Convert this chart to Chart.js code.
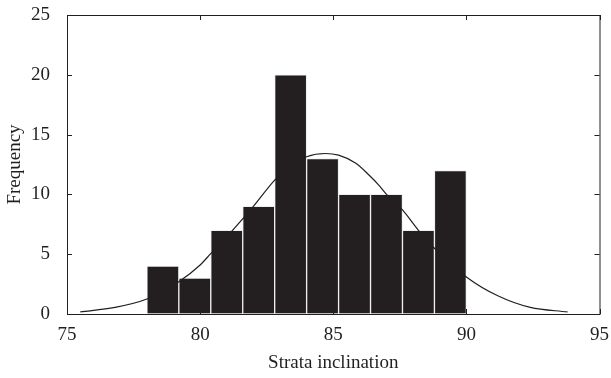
<!DOCTYPE html>
<html>
<head>
<meta charset="utf-8">
<script src="https://cdn.jsdelivr.net/npm/chart.js@4"></script>
<style>
  html, body { margin: 0; padding: 0; background: #fff; }
  #wrap { width: 611px; height: 378px; }
</style>
</head>
<body>
<div id="wrap"><canvas id="histChart" width="611" height="378"></canvas></div>
<script>
// histogram bins (centres of 1.2-wide bins from 78 to 90)
const binCenters = [78.6, 79.8, 81.0, 82.2, 83.4, 84.6, 85.8, 87.0, 88.2, 89.4];
const binCounts  = [4, 3, 7, 9, 20, 13, 10, 10, 7, 12];

// fitted curve
const curveX = [75.5, 76.8, 78.0, 79.2, 80.0, 80.4, 81.2, 82.0, 82.8, 83.4, 84.0, 84.7, 85.2, 85.85, 86.35, 86.7, 87.0, 87.6, 88.2, 88.8, 90.0, 91.2, 92.4, 93.8];
const curveY = [0.17, 0.55, 1.25, 2.7, 4.1, 5.05, 6.95, 9.0, 11.2, 12.4, 13.15, 13.42, 13.28, 12.6, 11.6, 10.8, 10.0, 8.7, 7.0, 5.5, 3.1, 1.5, 0.55, 0.17];

const xTicks = [75, 80, 85, 90, 95];
const yTicks = [0, 5, 10, 15, 20, 25];

const FONT = { family: '"Liberation Serif", "DejaVu Serif", serif', size: 19 };

// frame + inward ticks on all four sides
const framePlugin = {
  id: 'frame',
  afterDraw(chart) {
    const { ctx, chartArea: a, scales } = chart;
    const len = 5;
    ctx.save();
    ctx.strokeStyle = '#231f20';
    ctx.lineWidth = 1;
    ctx.strokeRect(a.left + 0.5, a.top + 0.5, a.right - a.left, a.bottom - a.top);
    ctx.beginPath();
    xTicks.forEach(v => {
      const px = Math.round(scales.x.getPixelForValue(v)) + 0.5;
      ctx.moveTo(px, a.bottom); ctx.lineTo(px, a.bottom - len);
      ctx.moveTo(px, a.top); ctx.lineTo(px, a.top + len);
    });
    yTicks.forEach(v => {
      const py = Math.round(scales.y.getPixelForValue(v)) + 0.5;
      ctx.moveTo(a.left, py); ctx.lineTo(a.left + len, py);
      ctx.moveTo(a.right, py); ctx.lineTo(a.right - len, py);
    });
    ctx.stroke();
    ctx.restore();
  }
};

new Chart(document.getElementById('histChart'), {
  data: {
    datasets: [
      {
        type: 'line',
        data: curveX.map((x, i) => ({ x: x, y: curveY[i] })),
        borderColor: '#231f20',
        borderWidth: 1.2,
        pointRadius: 0,
        fill: false,
        cubicInterpolationMode: 'monotone',
        order: 0
      },
      {
        type: 'bar',
        data: binCenters.map((x, i) => ({ x: x, y: binCounts[i] })),
        backgroundColor: '#231f20',
        borderColor: '#eeeeee',
        borderWidth: 1,
        borderSkipped: false,
        barPercentage: 1.0,
        categoryPercentage: 1.0,
        order: 1
      }
    ]
  },
  options: {
    responsive: false,
    animation: false,
    layout: { padding: { top: 0, right: 11, left: 0, bottom: 0 } },
    plugins: { legend: { display: false }, tooltip: { enabled: false } },
    scales: {
      x: {
        type: 'linear',
        offset: false,
        min: 75, max: 95,
        afterBuildTicks(s) { s.ticks = xTicks.map(v => ({ value: v })); },
        afterFit(s) { s.height = 64; },
        grid: { display: false, offset: false },
        border: { display: false },
        ticks: { font: FONT, color: '#231f20', padding: 2, maxRotation: 0 },
        title: { display: true, text: 'Strata inclination', font: FONT, color: '#231f20', padding: { top: 8 } }
      },
      y: {
        min: 0, max: 25,
        afterBuildTicks(s) { s.ticks = yTicks.map(v => ({ value: v })); },
        afterFit(s) { s.width = 67; s.paddingTop = 15; },
        grid: { display: false },
        border: { display: false },
        ticks: { font: FONT, color: '#231f20', padding: 9 },
        title: { display: true, text: 'Frequency', font: FONT, color: '#231f20', padding: { bottom: 2 } }
      }
    }
  },
  plugins: [framePlugin]
});
</script>
</body>
</html>
